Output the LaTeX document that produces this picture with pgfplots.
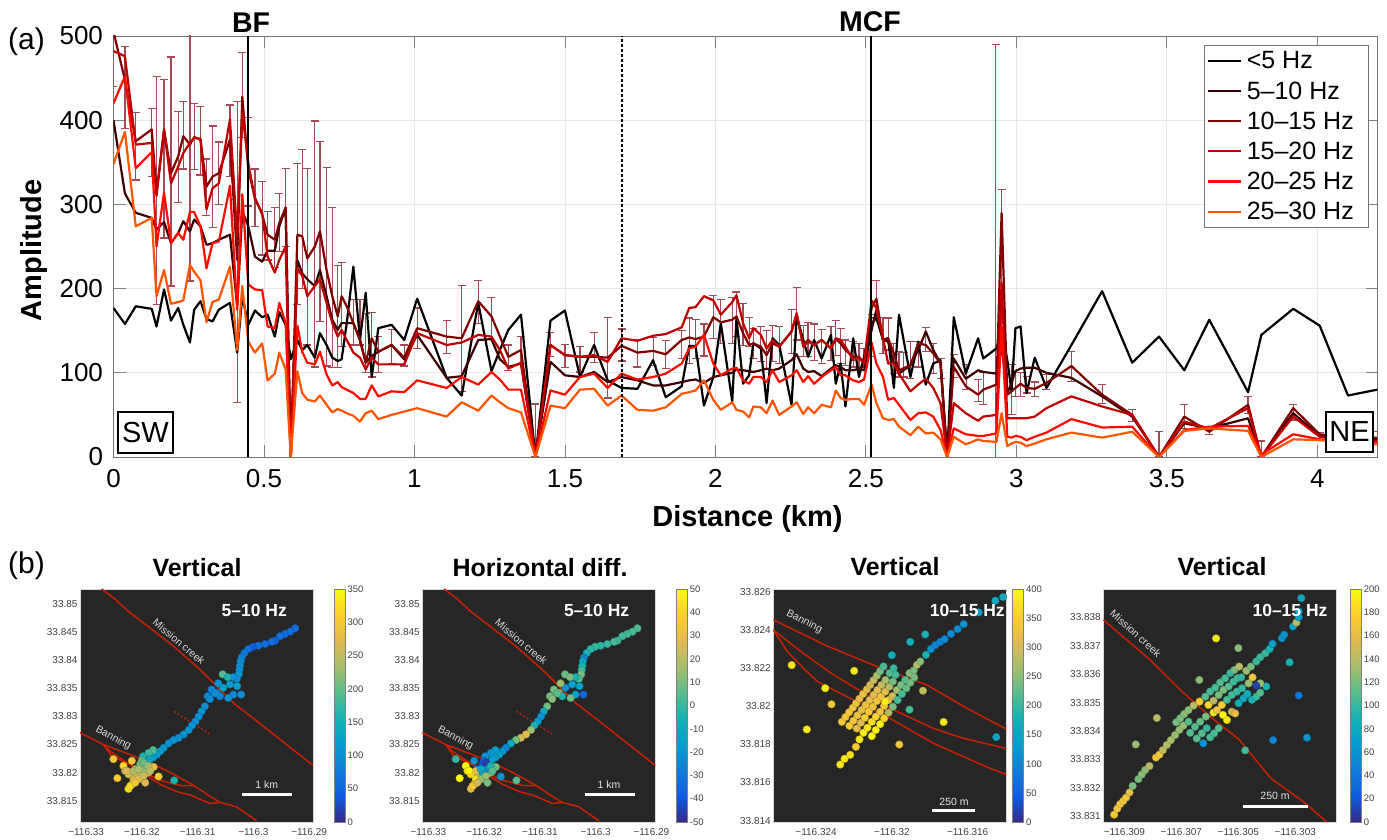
\documentclass[border=0pt]{standalone}
\usepackage{fontspec}
\usepackage{pgfplots}
\usepackage{pgfplotstable}
\pgfplotsset{compat=1.18}
\setmainfont{Liberation Sans}
\newcommand{\fs}[1]{\fontsize{#1}{#1}\selectfont}
\newcommand{\LE}[1]{\hspace*{3pt}#1\hspace*{10pt}}
\definecolor{cA}{HTML}{000000}
\definecolor{cB}{HTML}{3D0000}
\definecolor{cC}{HTML}{800000}
\definecolor{cD}{HTML}{C00000}
\definecolor{cE}{HTML}{FF0A00}
\definecolor{cF}{HTML}{FF5500}
\definecolor{errc}{HTML}{A24A55}
\definecolor{panelbg}{HTML}{262626}
\definecolor{fault}{HTML}{C82000}
\definecolor{ticktxt}{HTML}{404040}
\pgfplotsset{
  colormap={parula}{rgb255=(53,42,135) rgb255=(15,92,221) rgb255=(18,125,216) rgb255=(7,156,207) rgb255=(21,177,180) rgb255=(89,189,140) rgb255=(165,190,107) rgb255=(225,185,82) rgb255=(252,206,46) rgb255=(249,251,14)},
  panel/.style={
    scale only axis, width=233pt, height=233pt, anchor=south west,
    axis background/.style={fill=panelbg},
    axis line style={draw=lightgray!60},
    major tick length=0pt, tick style={draw=none},
    colormap name=parula,
    ticklabel style={font=\fs{10}, text=ticktxt},
    xticklabel style={yshift=-3pt},
    yticklabel style={xshift=1pt},
    colorbar,
    colorbar style={
      at={(parent axis.north east)}, anchor=north west,
      width=11pt, height=233pt,
      axis line style={draw=gray},
      major tick length=0pt, tick style={draw=none},
      yticklabel pos=right,
      yticklabel style={font=\fs{9.5}, text=ticktxt, xshift=-1pt},
    },
  },
  faultline/.style={fault, line width=1.5pt, forget plot, no markers},
  pts/.style={scatter, only marks, mark=*, mark size=3.8pt, scatter src=explicit, forget plot},
  ptsb/.style={scatter, only marks, mark=*, mark size=3.8pt, scatter src=explicit, forget plot},
}
\pgfplotstableread{
x s0 s1 s2 s3 s4 s5
0.000 177 400 505 482 420 348
0.038 158 313 448 476 452 386
0.074 179 290 375 371 343 274
0.127 176 284 389 373 362 284
0.143 155 270 314 310 250 191
0.168 199 279 389 389 314 222
0.191 162 254 337 325 254 182
0.215 177 266 357 345 266 184
0.232 157 280 381 361 258 186
0.254 136 268 371 373 291 228
0.268 175 282 380 379 291 220
0.289 185 274 377 378 274 210
0.309 164 252 321 294 224 160
0.329 161 254 333 319 254 184
0.350 175 258 337 325 256 187
0.387 183 264 377 401 322 226
0.411 124 179 234 262 175 127
0.428 191 292 428 409 312 203
0.448 157 274 341 349 205 137
0.470 174 238 308 306 199 124
0.494 166 232 288 290 198 135
0.512 169 245 264 238 155 91
0.536 143 245 258 219 153 99
0.551 172 274 278 234 183 124
0.572 157 296 296 250 159 104
0.589 116 0 0 0 0 0
0.611 139 234 264 224 156 102
0.627 127 218 262 215 125 76
0.644 133 211 236 191 112 68
0.669 118 203 250 203 110 66
0.686 147 222 268 211 125 73
0.708 133 191 222 183 98 62
0.727 118 163 191 159 85 53
0.745 114 151 167 143 89 57
0.758 116 159 191 151 83 55
0.775 159 159 179 139 80 52
0.797 226 159 159 124 76 49
0.819 139 139 139 118 69 42
0.838 195 112 112 104 69 52
0.858 95 120 141 118 85 55
0.880 153 125 125 110 72 45
0.924 157 133 133 110 78 50
0.966 139 116 118 110 77 54
1.009 188 145 153 147 91 58
1.107 94 94 143 133 82 48
1.157 73 96 141 136 95 65
1.212 183 139 185 145 86 55
1.256 102 140 167 143 101 73
1.284 127 116 143 127 92 65
1.312 151 107 119 105 80 58
1.354 169 111 127 112 80 53
1.402 0 0 0 0 0 0
1.452 162 113 133 133 79 61
1.500 174 97 121 121 74 58
1.550 95 95 119 119 95 80
1.597 133 101 119 121 99 81
1.642 91 89 118 113 82 61
1.688 82 95 132 141 99 73
1.741 81 91 124 138 92 56
1.793 115 85 126 144 95 55
1.835 71 85 122 146 99 59
1.888 84 89 139 154 111 75
1.913 132 91 142 177 129 77
1.934 132 92 140 178 131 79
1.962 61 88 143 191 145 91
1.993 95 95 166 186 111 68
2.018 159 97 160 169 97 56
2.056 66 100 163 184 105 65
2.070 165 104 167 192 106 56
2.092 87 103 147 159 91 54
2.112 97 102 133 141 87 47
2.126 135 101 135 153 95 60
2.151 129 103 131 145 95 59
2.170 64 105 121 129 89 52
2.190 141 103 135 139 103 67
2.212 133 105 131 131 89 50
2.253 62 115 149 149 97 60
2.270 167 122 169 171 103 65
2.292 139 105 133 131 89 51
2.308 119 101 139 137 96 59
2.328 139 102 133 133 87 52
2.353 117 96 139 139 95 62
2.384 145 105 129 129 103 59
2.400 87 109 140 141 107 79
2.416 111 107 135 139 97 70
2.432 60 103 127 131 97 68
2.458 141 103 119 115 91 69
2.477 95 105 119 118 89 69
2.494 119 103 111 111 92 62
2.519 159 151 177 186 136 86
2.535 165 175 188 177 111 64
2.557 139 139 139 141 95 46
2.574 141 137 141 111 68 44
2.593 82 111 123 111 70 45
2.610 169 99 103 99 62 36
2.648 95 109 109 78 44 26
2.674 137 127 135 86 52 36
2.699 86 149 133 93 53 28
2.724 111 127 123 82 48 29
2.748 115 111 111 64 32 21
2.770 0 0 0 0 0 0
2.792 166 117 107 64 34 24
2.832 99 93 84 52 27 15
2.873 141 103 74 43 25 21
2.890 117 101 80 48 25 19
2.934 129 99 86 50 28 18
2.951 151 131 290 207 155 52
2.970 115 76 74 46 24 13
2.984 78 88 78 46 23 16
2.997 153 102 82 46 25 18
3.014 155 105 87 46 24 17
3.034 76 106 82 46 20 13
3.061 118 106 81 48 24 16
3.100 82 100 88 58 29 21
3.183 133 94 108 72 45 29
3.285 197 72 74 60 35 23
3.385 112 48 50 50 36 30
3.474 143 0 0 0 0 0
3.558 103 40 48 42 32 31
3.641 163 34 30 34 36 34
3.770 77 46 62 58 37 31
3.814 145 0 0 0 3 0
3.920 176 52 58 48 27 21
4.008 156 25 27 24 21 20
4.102 73 21 23 19 17 17
4.199 80 21 23 19 17 15
}\ampt
\pgfplotstableread{
x lo hi
0.000 440 560
0.038 390 488
0.074 329 409
0.127 333 414
0.143 181 452
0.168 260 448
0.191 203 475
0.215 302 410
0.232 342 422
0.254 209 560
0.268 341 420
0.289 335 416
0.309 287 354
0.329 273 393
0.350 300 374
0.387 333 418
0.411 65 422
0.428 379 480
0.448 298 403
0.470 274 342
0.494 240 327
0.512 234 292
0.536 225 296
0.551 244 313
0.572 250 343
0.611 181 349
0.627 200 365
0.644 133 343
0.669 107 399
0.686 161 375
0.708 108 344
0.727 106 296
0.745 106 227
0.758 131 231
0.797 133 187
0.819 133 187
0.838 100 170
0.858 95 172
0.880 100 143
0.924 111 151
0.966 108 133
1.009 129 177
1.107 123 162
1.157 78 204
1.212 159 210
1.256 140 189
1.312 103 133
1.354 111 143
1.402 0 63
1.452 119 148
1.500 106 134
1.550 101 131
1.597 112 148
1.642 70 166
1.688 114 152
1.741 107 140
1.793 109 142
1.835 105 138
1.888 117 150
1.913 111 165
1.934 117 163
1.962 120 158
1.993 141 192
2.018 135 187
2.056 135 189
2.070 143 196
2.092 132 182
2.112 131 166
2.126 117 153
2.151 113 155
2.170 105 150
2.190 113 156
2.212 111 155
2.253 123 175
2.270 139 201
2.292 119 156
2.308 119 160
2.328 115 158
2.353 111 151
2.384 115 155
2.400 121 162
2.416 111 153
2.432 109 139
2.458 107 137
2.477 103 135
2.494 107 129
2.519 119 169
2.535 165 210
2.557 123 166
2.574 127 165
2.593 99 135
2.610 95 125
2.625 95 124
2.648 93 137
2.674 107 137
2.699 125 154
2.724 99 135
2.748 93 117
2.792 94 122
2.834 80 110
2.873 66 92
2.890 62 100
2.931 -10 490
2.951 140 318
2.984 50 110
2.997 72 100
3.014 72 100
3.034 76 96
3.061 72 89
3.100 80 98
3.183 90 125
3.285 64 86
3.385 42 56
3.474 0 30
3.558 34 62
3.641 27 36
3.770 52 72
3.814 0 19
3.920 44 62
4.008 21 29
4.199 15 30
}\errt
\pgfplotstableread{
lon lat v w
-116.2925 33.8457 60 3
-116.2934 33.8451 60 3
-116.2943 33.8447 55 2
-116.2952 33.8443 60 2
-116.2961 33.8435 50 0
-116.2967 33.8433 60 2
-116.2979 33.8429 60 0
-116.2991 33.8426 65 -2
-116.3001 33.8424 40 0
-116.3009 33.8420 60 -2
-116.3016 33.8413 75 -5
-116.3021 33.8405 80 -25
-116.3023 33.8398 100 -10
-116.3024 33.8390 100 -5
-116.3025 33.8383 100 0
-116.3026 33.8375 110 10
-116.3030 33.8367 100 5
-116.3036 33.8370 100 -5
-116.3029 33.8354 120 -15
-116.3022 33.8339 100 -35
-116.3036 33.8339 90 -15
-116.3045 33.8333 110 8
-116.3055 33.8375 190 8
-116.3046 33.8370 160 10
-116.3042 33.8357 120 -15
-116.3054 33.8351 130 -20
-116.3063 33.8359 110 15
-116.3066 33.8342 85 20
-116.3075 33.8348 90 10
-116.3082 33.8336 90 10
-116.3060 33.8336 90 -5
-116.3069 33.8341 100 5
-116.3078 33.8331 100 12
-116.3087 33.8318 100 10
-116.3093 33.8309 105 -10
-116.3098 33.8300 105 -20
-116.3104 33.8291 100 -15
-116.3110 33.8284 105 -5
-116.3116 33.8276 105 15
-116.3125 33.8268 105 30
-116.3134 33.8262 105 25
-116.3143 33.8258 105 10
-116.3152 33.8252 100 -10
-116.3161 33.8244 110 -25
-116.3167 33.8238 115 -20
-116.3173 33.8232 120 -15
-116.3180 33.8227 120 -15
-116.3180 33.8240 190 -15
-116.3188 33.8235 180 -20
-116.3198 33.8229 160 -20
-116.3185 33.8224 130 -15
-116.3251 33.8224 300 0
-116.3218 33.8221 300 -20
-116.3233 33.8212 320 50
-116.3230 33.8203 260 45
-116.3244 33.8190 310 50
-116.3170 33.8193 310 -20
-116.3142 33.8186 160 5
-116.3194 33.8182 270 10
-116.3179 33.8210 290 10
-116.3188 33.8200 250 10
-116.3203 33.8215 210 -40
-116.3212 33.8206 230 -35
-116.3218 33.8197 250 0
-116.3209 33.8194 270 20
-116.3203 33.8200 240 -15
-116.3197 33.8206 220 -25
-116.3224 33.8197 260 40
-116.3215 33.8188 270 45
-116.3206 33.8188 280 15
-116.3218 33.8179 300 35
-116.3224 33.8171 330 30
-116.3221 33.8176 320 35
-116.3212 33.8182 300 25
-116.3215 33.8203 240 30
-116.3191 33.8212 220 -5
-116.3200 33.8221 210 -35
-116.3197 33.8218 200 -45
-116.3206 33.8206 240 -10
-116.3197 33.8194 260 15
-116.3188 33.8212 230 -5
-116.3227 33.8203 270 50
-116.3185 33.8203 250 5
}\trackt
\pgfplotstableread{
lon lat v
-116.32264 33.81918 340
-116.32245 33.81943 340
-116.32226 33.81968 345
-116.32206 33.81992 340
-116.32189 33.82015 330
-116.32171 33.82039 320
-116.32152 33.82064 330
-116.32132 33.82088 320
-116.32115 33.82111 300
-116.32097 33.82136 290
-116.32079 33.82160 270
-116.32062 33.82183 240
-116.32044 33.82208 210
-116.32224 33.81897 350
-116.32203 33.81924 340
-116.32182 33.81952 330
-116.32160 33.81980 320
-116.32139 33.82006 330
-116.32118 33.82032 320
-116.32097 33.82059 310
-116.32076 33.82085 320
-116.32055 33.82111 290
-116.32034 33.82137 270
-116.32012 33.82173 220
-116.31991 33.82199 200
-116.32185 33.81883 320
-116.32164 33.81913 310
-116.32143 33.81939 350
-116.32122 33.81971 350
-116.32100 33.81997 330
-116.32079 33.82027 340
-116.32058 33.82050 330
-116.32035 33.82076 320
-116.32014 33.82102 280
-116.31995 33.82129 240
-116.31981 33.82164 210
-116.32273 33.81694 380
-116.32250 33.81724 380
-116.32220 33.81745 370
-116.32190 33.81787 350
-116.32171 33.81826 380
-116.32150 33.81861 390
-116.32129 33.81887 380
-116.32106 33.81918 370
-116.32085 33.81945 360
-116.32062 33.81971 330
-116.32041 33.82001 340
-116.32018 33.82032 330
-116.31997 33.82053 300
-116.31974 33.82085 260
-116.31952 33.82111 240
-116.31930 33.82137 220
-116.31907 33.82173 250
-116.31885 33.82187 240
-116.31868 33.82216 280
-116.31850 33.82234 250
-116.31820 33.82269 180
-116.31794 33.82299 120
-116.31771 33.82320 100
-116.31745 33.82337 100
-116.31722 33.82351 110
-116.31688 33.82379 110
-116.31653 33.82404 110
-116.31621 33.82430 120
-116.31542 33.82491 140
-116.31454 33.82553 160
-116.31413 33.82572 160
-116.32097 33.81861 10
-116.32085 33.81875 390
-116.32062 33.81906 390
-116.32041 33.81936 360
-116.32018 33.81966 280
-116.31995 33.81997 240
-116.31970 33.82032 210
-116.31947 33.82064 210
-116.31924 33.82094 230
-116.31903 33.82123 240
-116.31882 33.82151 240
-116.32106 33.81843 390
-116.32035 33.82024 385
-116.32529 33.82215 375
-116.32199 33.82185 380
-116.32352 33.82094 385
-116.32319 33.82010 340
-116.32449 33.81878 385
-116.31961 33.81799 340
-116.31907 33.81982 210
-116.31836 33.82081 290
-116.31727 33.81917 380
-116.31449 33.81838 150
-116.32000 33.82267 170
-116.31903 33.82337 170
-116.31824 33.82376 180
}\ptsc
\pgfplotstableread{
lon lat v
-116.30936 33.83106 170
-116.30925 33.83127 170
-116.30915 33.83143 170
-116.30904 33.83154 170
-116.30894 33.83166 170
-116.30882 33.83184 160
-116.30871 33.83207 120
-116.30851 33.83231 120
-116.30839 33.83247 125
-116.30827 33.83263 125
-116.30812 33.83277 140
-116.30789 33.83307 170
-116.30777 33.83317 170
-116.30765 33.83333 145
-116.30751 33.83351 140
-116.30737 33.83368 135
-116.30722 33.83386 130
-116.30707 33.83404 130
-116.30693 33.83419 130
-116.30675 33.83433 110
-116.30718 33.83431 120
-116.30704 33.83445 120
-116.30690 33.83460 125
-116.30675 33.83474 125
-116.30657 33.83490 140
-116.30636 33.83504 175
-116.30616 33.83521 110
-116.30599 33.83539 105
-116.30581 33.83553 105
-116.30564 33.83571 110
-116.30546 33.83586 105
-116.30528 33.83604 100
-116.30514 33.83615 120
-116.30497 33.83627 140
-116.30669 33.83394 110
-116.30652 33.83415 110
-116.30634 33.83433 115
-116.30614 33.83451 120
-116.30605 33.83492 180
-116.30587 33.83507 140
-116.30569 33.83527 120
-116.30552 33.83545 120
-116.30534 33.83557 110
-116.30517 33.83574 105
-116.30503 33.83586 105
-116.30490 33.83589 100
-116.30464 33.83568 130
-116.30472 33.83612 130
-116.30450 33.83589 170
-116.30646 33.83374 110
-116.30628 33.83392 110
-116.30611 33.83410 100
-116.30587 33.83465 190
-116.30575 33.83474 165
-116.30558 33.83492 175
-116.30540 33.83510 105
-116.30523 33.83527 105
-116.30505 33.83539 100
-116.30487 33.83551 100
-116.30599 33.83378 105
-116.30585 33.83392 105
-116.30569 33.83410 110
-116.30540 33.83439 190
-116.30554 33.83457 195
-116.30523 33.83468 150
-116.30511 33.83462 160
-116.30499 33.83498 85
-116.30482 33.83515 80
-116.30468 33.83531 85
-116.30452 33.83510 90
-116.30437 33.83521 100
-116.30423 33.83535 110
-116.30402 33.83557 90
-116.30423 33.83568 130
-116.30437 33.83560 10
-116.30456 33.83627 120
-116.30437 33.83645 100
-116.30423 33.83660 100
-116.30405 33.83674 100
-116.30390 33.83689 90
-116.30380 33.83707 70
-116.30347 33.83727 60
-116.30339 33.83739 60
-116.30308 33.83768 70
-116.30296 33.83782 140
-116.30288 33.83801 70
-116.30288 33.83821 70
-116.30279 33.83868 80
-116.30578 33.83726 190
-116.30500 33.83692 125
-116.30637 33.83580 125
-116.30786 33.83446 140
-116.30860 33.83353 130
-116.30623 33.83357 60
-116.30476 33.83332 105
-116.30378 33.83368 50
-116.30259 33.83377 60
-116.30288 33.83525 40
-116.30320 33.83642 90
}\ptsd
\newcommand{\T}[4]{\node[#3] at ({#1*1pt},{(839-#2)*1pt}) {#4};}
\newcommand{\mapfaults}{%
  \addplot[faultline] coordinates {(-116.3272,33.8527)(-116.3248,33.8509)(-116.3224,33.8487)(-116.3173,33.8448)(-116.3143,33.8425)(-116.3092,33.8380)(-116.3036,33.8324)(-116.2994,33.8292)(-116.2892,33.8212)};
  \addplot[faultline] coordinates {(-116.3311,33.8271)(-116.3269,33.8250)(-116.3221,33.8232)(-116.3173,33.8212)(-116.3143,33.8197)(-116.3107,33.8177)(-116.3078,33.8158)(-116.3060,33.8147)(-116.3030,33.8139)(-116.2994,33.8114)};
  \addplot[faultline] coordinates {(-116.3269,33.8250)(-116.3254,33.8229)(-116.3203,33.8206)(-116.3173,33.8188)(-116.3131,33.8177)(-116.3107,33.8177)};
  \addplot[faultline] coordinates {(-116.3269,33.8250)(-116.3257,33.8238)(-116.3191,33.8194)(-116.3167,33.8179)(-116.3137,33.8166)(-116.3113,33.8160)(-116.3078,33.8145)(-116.3060,33.8147)};
  \addplot[faultline, line width=1.2pt, dash pattern=on 2pt off 2pt] coordinates {(-116.3142,33.8309)(-116.3079,33.8269)};
}
\pgfplotsset{maptick/.style={xtick={-116.33,-116.32,-116.31,-116.3,-116.29},
  xticklabels={−116.33,−116.32,−116.31,−116.3,−116.29},
  ytick={33.815,33.82,33.825,33.83,33.835,33.84,33.845,33.85},
  yticklabels={33.815,33.82,33.825,33.83,33.835,33.84,33.845,33.85},
  xmin=-116.3311,xmax=-116.2893,ymin=33.8112,ymax=33.8527}}
\begin{document}
\begin{tikzpicture}[x=1pt,y=1pt]
\useasboundingbox (0pt,0pt) rectangle (1387pt,839pt);
\begin{axis}[
  at={(113.5pt,382pt)}, anchor=south west, scale only axis, width=1264pt, height=421pt,
  xmin=0, xmax=4.2, ymin=0, ymax=500,
  xtick={0,0.5,1,1.5,2,2.5,3,3.5,4}, xticklabels={0,0.5,1,1.5,2,2.5,3,3.5,4},
  ytick={0,100,200,300,400,500}, yticklabels={0,100,200,300,400,500},
  grid=major, grid style={draw=gray!18, line width=0.8pt},
  axis line style={draw=gray!90!black, line width=0.8pt},
  tick style={draw=gray, line width=0.8pt}, major tick length=12pt, tick align=inside,
  ticklabel style={font=\fs{26}},
  xticklabel style={yshift=-9pt},
  yticklabel style={xshift=-7pt},
  xlabel={\textbf{Distance (km)}}, ylabel={\textbf{Amplitude}},
  xlabel style={font=\fs{29}, yshift=-11pt, xshift=2pt}, ylabel style={font=\fs{29}, yshift=5pt, xshift=-4pt},
  legend style={at={(0.9925,0.9786)}, anchor=north east, draw=gray!90!black, font=\fs{25},
    inner sep=2pt, inner ysep=4.5pt, row sep=7.2pt, legend cell align=left},
  legend image code/.code={\draw[#1, line width=2.2pt] (0pt,0pt) -- (33pt,0pt);},
  every axis plot/.append style={line join=round},
]
\addplot[draw=none, forget plot, no markers,
  error bars/.cd, y dir=both, y explicit,
  error bar style={color=errc, line width=1.2pt},
  error mark options={rotate=90, mark size=4pt, color=errc, line width=1.2pt}]
  table[x=x, y expr=(\thisrow{lo}+\thisrow{hi})/2, y error expr=(\thisrow{hi}-\thisrow{lo})/2] {\errt};
\addplot[cA, line width=2.2pt] table[x=x,y=s0] {\ampt}; \addlegendentry{\LE{<5 Hz}}
\addplot[cB, line width=2.2pt] table[x=x,y=s1] {\ampt}; \addlegendentry{\LE{5–10 Hz}}
\addplot[cC, line width=2.2pt] table[x=x,y=s2] {\ampt}; \addlegendentry{\LE{10–15 Hz}}
\addplot[cD, line width=2.2pt] table[x=x,y=s3] {\ampt}; \addlegendentry{\LE{15–20 Hz}}
\addplot[cE, line width=2.2pt] table[x=x,y=s4] {\ampt}; \addlegendentry{\LE{20–25 Hz}}
\addplot[cF, line width=2.2pt] table[x=x,y=s5] {\ampt}; \addlegendentry{\LE{25–30 Hz}}
\addplot[black, line width=1.8pt, forget plot] coordinates {(0.448,0)(0.448,500)};
\addplot[black, line width=1.8pt, forget plot] coordinates {(2.517,0)(2.517,500)};
\addplot[black, line width=2pt, dash pattern=on 2.5pt off 2.5pt, forget plot] coordinates {(1.69,0)(1.69,500)};
\end{axis}
\begin{axis}[panel, at={(80pt,17pt)}, point meta min=0, point meta max=350, maptick,
  colorbar style={xshift=12.5pt, ytick={0,50,100,150,200,250,300,350}, yticklabels={0,50,100,150,200,250,300,350}}]
\mapfaults
\addplot[pts] table[x=lon,y=lat,meta=v] {\trackt};
\end{axis}
\begin{axis}[panel, at={(422.3pt,17pt)}, point meta min=-50, point meta max=50, maptick,
  colorbar style={xshift=12.5pt, ytick={-50,-40,-30,-20,-10,0,10,20,30,40,50}, yticklabels={-50,-40,-30,-20,-10,0,10,20,30,40,50}}]
\mapfaults
\addplot[pts] table[x=lon,y=lat,meta=w] {\trackt};
\end{axis}
\begin{axis}[panel, at={(773.3pt,17pt)}, point meta min=0, point meta max=400,
  xmin=-116.32626,xmax=-116.31396,ymin=33.81393,ymax=33.82614,
  xtick={-116.324,-116.32,-116.316}, xticklabels={−116.324,−116.32,−116.316},
  ytick={33.814,33.816,33.818,33.82,33.822,33.824,33.826}, yticklabels={33.814,33.816,33.818,33.82,33.822,33.824,33.826},
  colorbar style={xshift=-2.2pt, ytick={0,50,100,150,200,250,300,350,400}, yticklabels={0,50,100,150,200,250,300,350,400}}]
\addplot[faultline] coordinates {(-116.32626,33.82453)(-116.32344,33.82316)(-116.32079,33.82208)(-116.31815,33.82111)(-116.31604,33.81989)(-116.31396,33.81880)};
\addplot[faultline] coordinates {(-116.32626,33.82400)(-116.32476,33.82283)(-116.32308,33.82164)(-116.32132,33.82059)(-116.31991,33.81980)(-116.31780,33.81883)(-116.31630,33.81834)(-116.31396,33.81778)};
\addplot[faultline] coordinates {(-116.32626,33.82400)(-116.32552,33.82286)(-116.32458,33.82190)(-116.32393,33.82129)(-116.32220,33.82041)(-116.32026,33.81945)(-116.31780,33.81805)(-116.31489,33.81677)(-116.31396,33.81642)};
\addplot[ptsb] table[x=lon,y=lat,meta=v] {\ptsc};
\end{axis}
\begin{axis}[panel, at={(1103.3pt,17pt)}, point meta min=0, point meta max=200,
  xmin=-116.30974,xmax=-116.30156,ymin=33.83080,ymax=33.83900,
  xtick={-116.309,-116.307,-116.305,-116.303}, xticklabels={−116.309,−116.307,−116.305,−116.303},
  ytick={33.831,33.832,33.833,33.834,33.835,33.836,33.837,33.838}, yticklabels={33.831,33.832,33.833,33.834,33.835,33.836,33.837,33.838},
  colorbar style={xshift=5.5pt, ytick={0,20,40,60,80,100,120,140,160,180,200}, yticklabels={0,20,40,60,80,100,120,140,160,180,200}}]
\addplot[faultline] coordinates {(-116.30974,33.83792)(-116.30892,33.83721)(-116.30810,33.83651)(-116.30704,33.83545)(-116.30599,33.83451)(-116.30499,33.83372)(-116.30385,33.83233)(-116.30271,33.83151)(-116.30189,33.83080)};
\addplot[ptsb] table[x=lon,y=lat,meta=v] {\ptsd};
\end{axis}
% text
\T{26.5}{42}{}{\fs{30}(a)}
\T{26.5}{566}{}{\fs{30}(b)}
\T{251}{23}{}{\fs{28.5}\textbf{BF}}
\T{870}{22}{}{\fs{28.5}\textbf{MCF}}
\T{145.5}{432.5}{draw=black, line width=1.2pt, minimum width=55pt, minimum height=41pt, inner sep=0pt, fill=white}{\fs{29}SW}
\T{1349.5}{432}{draw=black, line width=1.2pt, minimum width=47pt, minimum height=40pt, inner sep=0pt, fill=white}{\fs{29}NE}
\T{197}{568}{}{\fs{25}\textbf{Vertical}}
\T{540}{568}{}{\fs{25}\textbf{Horizontal diff.}}
\T{895}{567}{}{\fs{25}\textbf{Vertical}}
\T{1222}{567}{}{\fs{25}\textbf{Vertical}}
\T{254.3}{610.7}{text=white}{\fs{17.5}\textbf{5–10 Hz}}
\T{596.6}{610.7}{text=white}{\fs{17.5}\textbf{5–10 Hz}}
\T{967.3}{610}{text=white}{\fs{17.5}\textbf{10–15 Hz}}
\T{1290}{610}{text=white}{\fs{17.5}\textbf{10–15 Hz}}
\T{179}{641.7}{text=white!85!black, rotate=-40}{\fs{10.5}Mission creek}
\T{521.3}{641.7}{text=white!85!black, rotate=-40}{\fs{10.5}Mission creek}
\T{1135.7}{633.3}{text=white!85!black, rotate=-42}{\fs{10.5}Mission creek}
\T{113.3}{738.3}{text=white!85!black, rotate=-28}{\fs{10.5}Banning}
\T{455.6}{738.3}{text=white!85!black, rotate=-28}{\fs{10.5}Banning}
\T{804.3}{621.7}{text=white!85!black, rotate=-27}{\fs{10.5}Banning}
\T{266.7}{784.3}{text=white!90!black}{\fs{10.5}1 km}
\T{609}{784.3}{text=white!90!black}{\fs{10.5}1 km}
\T{954}{801.7}{text=white!90!black}{\fs{10.5}250 m}
\T{1275}{796}{text=white!90!black}{\fs{10.5}250 m}
\draw[white, line width=2.6pt] (242.3pt,44.7pt) -- (292.3pt,44.7pt);
\draw[white, line width=2.6pt] (584.6pt,44.7pt) -- (634.6pt,44.7pt);
\draw[white, line width=2.6pt] (931.7pt,28.7pt) -- (975pt,28.7pt);
\draw[white, line width=2.6pt] (1243.3pt,32.3pt) -- (1307.7pt,32.3pt);
\end{tikzpicture}
\end{document}
